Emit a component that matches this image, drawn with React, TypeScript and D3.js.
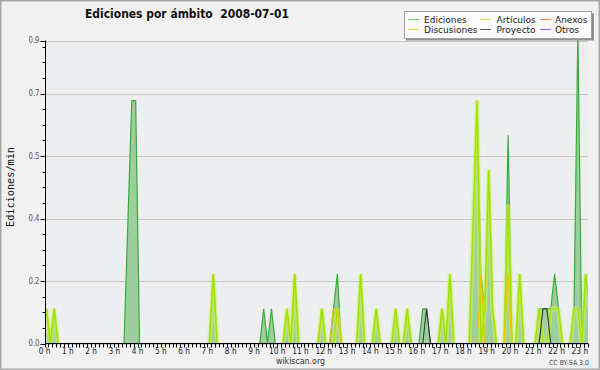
import React from 'react';
import * as d3 from 'd3';

const W = 600;
const H = 370;

// 10-minute buckets (index i -> minute i*10+5), editions per minute
const ediciones = [
  0.1, 0, 0.1, 0, 0, 0, 0, 0, 0, 0, 0, 0,
  0, 0, 0, 0, 0, 0, 0, 0, 0, 0.35, 0.7, 0.7,
  0, 0, 0, 0, 0, 0, 0, 0, 0, 0, 0, 0,
  0, 0, 0, 0, 0, 0, 0, 0.2, 0, 0, 0, 0,
  0, 0, 0, 0, 0, 0, 0, 0, 0.1, 0, 0.1, 0,
  0, 0, 0.1, 0, 0.2, 0, 0, 0, 0, 0, 0, 0.1,
  0, 0, 0.1, 0.2, 0, 0, 0, 0, 0, 0.2, 0, 0,
  0, 0.1, 0, 0, 0, 0, 0.1, 0, 0, 0.1, 0, 0,
  0, 0.1, 0.1, 0, 0, 0, 0.1, 0, 0.2, 0, 0, 0,
  0, 0, 0.35, 0.7, 0.2, 0.1, 0.5, 0.1, 0, 0, 0, 0.6,
  0, 0, 0.2, 0, 0, 0, 0, 0.1, 0.1, 0.1, 0.1, 0.2,
  0.1, 0, 0, 0, 0.1, 0.9, 0, 0.2, 0.1, 0, 0, 0,
];
const articulos = [
  0.1, 0, 0.1, 0, 0, 0, 0, 0, 0, 0, 0, 0,
  0, 0, 0, 0, 0, 0, 0, 0, 0, 0, 0, 0,
  0, 0, 0, 0, 0, 0, 0, 0, 0, 0, 0, 0,
  0, 0, 0, 0, 0, 0, 0, 0.2, 0, 0, 0, 0,
  0, 0, 0, 0, 0, 0, 0, 0, 0, 0, 0, 0,
  0, 0, 0.1, 0, 0.2, 0, 0, 0, 0, 0, 0, 0.1,
  0, 0, 0, 0.1, 0, 0, 0, 0, 0, 0.2, 0, 0,
  0, 0.1, 0, 0, 0, 0, 0.1, 0, 0, 0.1, 0, 0,
  0, 0, 0, 0, 0, 0, 0.1, 0, 0.2, 0, 0, 0,
  0, 0, 0.35, 0.7, 0, 0.1, 0.5, 0.1, 0, 0, 0, 0.4,
  0, 0, 0.2, 0, 0, 0, 0, 0.1, 0, 0, 0.1, 0.1,
  0.1, 0, 0, 0, 0.1, 0.1, 0, 0.2, 0.1, 0, 0, 0,
];
const discusiones = [
  0, 0, 0, 0, 0, 0, 0, 0, 0, 0, 0, 0,
  0, 0, 0, 0, 0, 0, 0, 0, 0, 0, 0, 0,
  0, 0, 0, 0, 0, 0, 0, 0, 0, 0, 0, 0,
  0, 0, 0, 0, 0, 0, 0, 0, 0, 0, 0, 0,
  0, 0, 0, 0, 0, 0, 0, 0, 0, 0, 0, 0,
  0, 0, 0, 0, 0, 0, 0, 0, 0, 0, 0, 0,
  0, 0, 0.1, 0.1, 0, 0, 0, 0, 0, 0, 0, 0,
  0, 0, 0, 0, 0, 0, 0, 0, 0, 0, 0, 0,
  0, 0, 0, 0, 0, 0, 0, 0, 0, 0, 0, 0,
  0, 0, 0, 0, 0.2, 0, 0, 0, 0, 0, 0, 0.2,
  0, 0, 0, 0, 0, 0, 0, 0, 0, 0, 0, 0,
  0, 0, 0, 0, 0, 0, 0, 0, 0, 0, 0, 0,
];
const proyecto = [
  0, 0, 0, 0, 0, 0, 0, 0, 0, 0, 0, 0,
  0, 0, 0, 0, 0, 0, 0, 0, 0, 0, 0, 0,
  0, 0, 0, 0, 0, 0, 0, 0, 0, 0, 0, 0,
  0, 0, 0, 0, 0, 0, 0, 0, 0, 0, 0, 0,
  0, 0, 0, 0, 0, 0, 0, 0, 0, 0, 0, 0,
  0, 0, 0, 0, 0, 0, 0, 0, 0, 0, 0, 0,
  0, 0, 0, 0, 0, 0, 0, 0, 0, 0, 0, 0,
  0, 0, 0, 0, 0, 0, 0, 0, 0, 0, 0, 0,
  0, 0, 0.1, 0, 0, 0, 0, 0, 0, 0, 0, 0,
  0, 0, 0, 0, 0, 0, 0, 0, 0, 0, 0, 0,
  0, 0, 0, 0, 0, 0, 0, 0, 0.1, 0.1, 0, 0,
  0, 0, 0, 0, 0, 0, 0, 0, 0, 0, 0, 0,
];
const anexos = [
  0, 0, 0, 0, 0, 0, 0, 0, 0, 0, 0, 0,
  0, 0, 0, 0, 0, 0, 0, 0, 0, 0, 0, 0,
  0, 0, 0, 0, 0, 0, 0, 0, 0, 0, 0, 0,
  0, 0, 0, 0, 0, 0, 0, 0, 0, 0, 0, 0,
  0, 0, 0, 0, 0, 0, 0, 0, 0, 0, 0, 0,
  0, 0, 0, 0, 0, 0, 0, 0, 0, 0, 0, 0,
  0, 0, 0, 0, 0, 0, 0, 0, 0, 0, 0, 0,
  0, 0, 0, 0, 0, 0, 0, 0, 0, 0, 0, 0,
  0, 0, 0, 0, 0, 0, 0, 0, 0, 0, 0, 0,
  0, 0, 0, 0, 0, 0, 0, 0, 0, 0, 0, 0,
  0, 0, 0, 0, 0, 0, 0, 0, 0, 0, 0, 0,
  0, 0, 0, 0, 0, 0, 0, 0, 0, 0, 0, 0,
];
const otros = [
  0, 0, 0, 0, 0, 0, 0, 0, 0, 0, 0, 0,
  0, 0, 0, 0, 0, 0, 0, 0, 0, 0, 0, 0,
  0, 0, 0, 0, 0, 0, 0, 0, 0, 0, 0, 0,
  0, 0, 0, 0, 0, 0, 0, 0, 0, 0, 0, 0,
  0, 0, 0, 0, 0, 0, 0, 0, 0, 0, 0, 0,
  0, 0, 0, 0, 0, 0, 0, 0, 0, 0, 0, 0,
  0, 0, 0, 0, 0, 0, 0, 0, 0, 0, 0, 0,
  0, 0, 0, 0, 0, 0, 0, 0, 0, 0, 0, 0,
  0, 0, 0, 0, 0, 0, 0, 0, 0, 0, 0, 0,
  0, 0, 0, 0, 0, 0, 0, 0, 0, 0, 0, 0,
  0, 0, 0, 0, 0, 0, 0, 0, 0, 0, 0, 0,
  0, 0, 0, 0, 0, 0, 0, 0, 0, 0, 0, 0,
];

const hourLabels = [
  '0 h', '1 h', '2 h', '3 h', '4 h', '5 h', '6 h', '7 h', '8 h', '9 h', '10 h', '11 h',
  '12 h', '13 h', '14 h', '15 h', '16 h', '17 h', '18 h', '19 h', '20 h', '21 h', '22 h', '23 h',
];
const yGridValues = [0, 0.18, 0.36, 0.54, 0.72];
const yMax = 0.873;

const legendItems = [
  { name: 'Ediciones', color: '#7ccc7c', col: 0, row: 0 },
  { name: 'Artículos', color: '#c6ef4a', col: 1, row: 0 },
  { name: 'Anexos', color: '#f08048', col: 2, row: 0 },
  { name: 'Discusiones', color: '#f2d34a', col: 0, row: 1 },
  { name: 'Proyecto', color: '#555555', col: 1, row: 1 },
  { name: 'Otros', color: '#a050f0', col: 2, row: 1 },
];

const FONT = 'DejaVu Sans, Verdana, sans-serif';

export default function App() {
  const left = 45.5;
  const right = 588;
  const top = 40.5;
  const bottom = 343.5;

  const x = d3.scaleLinear().domain([0, 1401]).range([44.5, right]);
  const y = d3.scaleLinear().domain([0, yMax]).range([bottom, top]);
  const tOf = (i: number) => i * 10 + 5;

  const area = d3
    .area<number>()
    .x((_, i) => x(tOf(i)))
    .y0(y(0))
    .y1((d) => y(d));

  const segLine = d3
    .line<[number, number]>()
    .x((p) => x(tOf(p[0])))
    .y((p) => y(p[1]));

  const segPath = (vals: number[]) => {
    let s = '';
    for (let i = 0; i < vals.length - 1; i++) {
      if (vals[i] > 0 || vals[i + 1] > 0) {
        s += segLine([
          [i, vals[i]],
          [i + 1, vals[i + 1]],
        ]);
      }
    }
    return s;
  };

  const minorY: number[] = [];
  for (let k = 0; k * 0.045 < yMax - 0.01; k++) minorY.push(k * 0.045);

  const xTicks: number[] = [];
  for (let m = 0; m <= 1401; m += 10) xTicks.push(m);

  const fmt = d3.format('.1f');

  const legX = [408, 480, 540];
  const legTextX = [424, 496.5, 555];
  const legY = [19, 29];

  const artPath = segPath(articulos);

  return (
    <svg
      width={W}
      height={H}
      style={{ position: 'absolute', left: 0, top: 0 }}
      fontFamily={FONT}
    >
      <defs>
        <clipPath id="plotclip">
          <rect x={left} y={top - 10} width={right - left} height={bottom - top + 10} />
        </clipPath>
      </defs>
      <rect x={0} y={0} width={W} height={H} fill="#f1f1f1" />
      <rect x={0.75} y={0.75} width={W - 1.5} height={H - 1.5} fill="none" stroke="#a8a8a8" strokeWidth={1.5} />
      <rect x={left} y={top} width={right - left} height={bottom - top} fill="#eceef0" />

      {/* grid */}
      {yGridValues.concat([yMax]).map((v) => (
        <line key={'g' + v} x1={left} x2={right} y1={Math.round(y(v)) + 0.5} y2={Math.round(y(v)) + 0.5} stroke="#c9c9c9" strokeWidth={1} />
      ))}

      {/* series */}
      <g clipPath="url(#plotclip)">
        <path d={area(ediciones) || ''} fill="#9ecd9e" />
        <path d={segPath(ediciones)} fill="none" stroke="#36ab36" strokeWidth={1.2} strokeLinejoin="round" />
        <path d={artPath} fill="none" stroke="#d2f07a" strokeOpacity={0.45} strokeWidth={5} strokeLinejoin="round" />
        <path d={artPath} fill="none" stroke="#c0ee40" strokeOpacity={0.8} strokeWidth={2.6} strokeLinejoin="round" />
        <path d={artPath} fill="none" stroke="#9ee000" strokeWidth={1.2} strokeLinejoin="round" />
        <path d={segPath(discusiones)} fill="none" stroke="#f2c200" strokeWidth={1.2} strokeLinejoin="round" />
        <path d={segPath(anexos)} fill="none" stroke="#f08048" strokeWidth={1.2} />
        <path d={segPath(otros)} fill="none" stroke="#a050f0" strokeWidth={1.2} />
        <path d={segPath(proyecto)} fill="none" stroke="#333333" strokeWidth={1.1} strokeLinejoin="round" />
      </g>

      {/* y axis */}
      <line x1={left} x2={left} y1={top} y2={bottom} stroke="#000" strokeWidth={1} />
      {minorY.map((v) => (
        <line key={'my' + v} x1={left - 3} x2={left} y1={Math.round(y(v)) + 0.5} y2={Math.round(y(v)) + 0.5} stroke="#000" />
      ))}
      {yGridValues.concat([yMax]).map((v) => (
        <g key={'ty' + v}>
          <line x1={left - 5} x2={left} y1={Math.round(y(v)) + 0.5} y2={Math.round(y(v)) + 0.5} stroke="#000" />
          <text x={39.5} y={y(v) + 2.5} fontSize={8} textAnchor="end" fill="#555" textLength={11} lengthAdjust="spacingAndGlyphs">
            {fmt(v)}
          </text>
        </g>
      ))}
      <text
        transform={`translate(13.5, 187) rotate(-90)`}
        fontFamily="DejaVu Sans Mono, monospace"
        fontSize={10.5}
        textAnchor="middle"
        fill="#111"
        textLength={80}
        lengthAdjust="spacingAndGlyphs"
      >
        Ediciones/min
      </text>

      {/* x axis */}
      <line x1={left} x2={right} y1={bottom} y2={bottom} stroke="#000" strokeWidth={1} />
      {xTicks.map((m) => (
        <line key={'xt' + m} x1={Math.round(x(m)) + 0.5} x2={Math.round(x(m)) + 0.5} y1={bottom} y2={bottom + 4} stroke="#000" />
      ))}
      {hourLabels.map((lab, h) => (
        <text
          key={lab}
          x={x(h * 60)}
          y={354}
          fontSize={9}
          textAnchor="middle"
          fill="#222"
          textLength={lab.length === 3 ? 11.7 : 16.6}
          lengthAdjust="spacingAndGlyphs"
        >
          {lab}
        </text>
      ))}

      {/* title */}
      <text x={85} y={18} fontSize={13} fontWeight="bold" fill="#111" textLength={204} lengthAdjust="spacingAndGlyphs" style={{ whiteSpace: 'pre' }} xmlSpace="preserve">
        {'Ediciones por ámbito  2008-07-01'}
      </text>

      {/* legend */}
      <rect x={406} y={13.5} width={188} height={27} fill="#8f8f8f" />
      <rect x={404.5} y={11.5} width={187} height={27} fill="#fbfbfb" stroke="#a0a0a0" />
      {legendItems.map((it) => (
        <g key={it.name}>
          <line x1={legX[it.col]} x2={legX[it.col] + 11} y1={legY[it.row] + 0.5} y2={legY[it.row] + 0.5} stroke={it.color} strokeWidth={1} />
          <text x={legTextX[it.col]} y={legY[it.row] + 3.5} fontSize={9} fill="#222">
            {it.name}
          </text>
        </g>
      ))}

      {/* footer */}
      <text x={300.5} y={364} fontSize={9} textAnchor="middle" fill="#333" textLength={49} lengthAdjust="spacingAndGlyphs">
        wikiscan.org
      </text>
      <text x={589} y={365} fontSize={7} textAnchor="end" fill="#444" textLength={40} lengthAdjust="spacingAndGlyphs">
        CC BY-SA 3.0
      </text>
    </svg>
  );
}
